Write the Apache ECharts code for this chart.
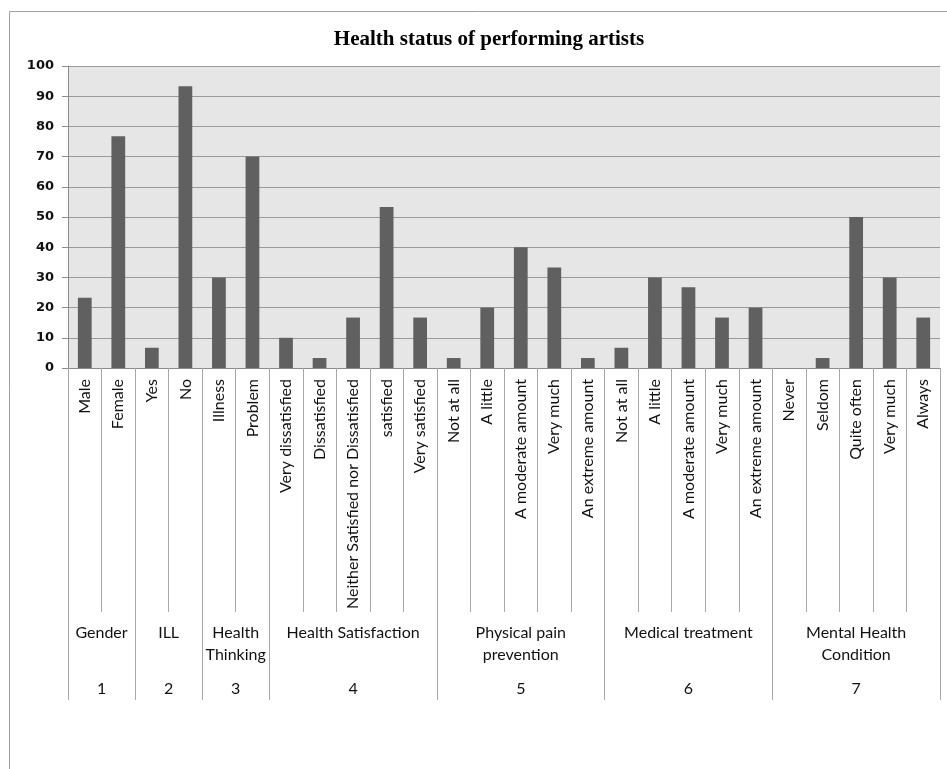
<!DOCTYPE html>
<html>
<head>
<meta charset="utf-8">
<script src="https://cdn.jsdelivr.net/npm/echarts@6/dist/echarts.min.js"></script>
<style>html,body{margin:0;padding:0;background:#fff}#c{width:947px;height:769px}</style>
</head>
<body>
<div id="c"></div>
<script>
const categories = [
  'Male','Female',
  'Yes','No',
  'Illness','Problem',
  'Very dissatisfied','Dissatisfied','Neither Satisfied nor Dissatisfied','satisfied','Very satisfied',
  'Not at all','A little','A moderate amount','Very much','An extreme amount',
  'Not at all','A little','A moderate amount','Very much','An extreme amount',
  'Never','Seldom','Quite often','Very much','Always'
];
const values = [
  23.3, 76.7,
  6.7, 93.3,
  30, 70,
  10, 3.3, 16.7, 53.3, 16.7,
  3.3, 20, 40, 33.3, 3.3,
  6.7, 30, 26.7, 16.7, 20,
  0, 3.3, 50, 30, 16.7
];
const groupNames = ['Gender','ILL','Health\nThinking','Health Satisfaction','Physical pain\nprevention','Medical treatment','Mental Health\nCondition'];
const groupNumbers = ['1','2','3','4','5','6','7'];
const groupSizes = [2,2,2,5,5,5,5];
const yTicks = [0,10,20,30,40,50,60,70,80,90,100];

const bounds = [0];
groupSizes.forEach(s => bounds.push(bounds[bounds.length-1] + s));
const centers = groupSizes.map((s,i) => bounds[i] + s/2);
const total = bounds[bounds.length-1];

const catFont = 'Lato';
const chart = echarts.init(document.getElementById('c'));
chart.setOption({
  animation: false,
  backgroundColor: '#fff',
  title: {
    text: 'Health status of performing artists',
    left: 484, textAlign: 'center', top: 24,
    textStyle: { fontFamily: 'Liberation Serif', fontWeight: 'bold', fontSize: 21, color: '#000' }
  },
  graphic: [{
    type: 'rect', silent: true, z: -1,
    shape: { x: 9.5, y: 11.5, width: 1000, height: 1000 },
    style: { fill: 'none', stroke: '#a0a0a0', lineWidth: 1 }
  }],
  grid: {
    left: 68, right: 7, top: 66, bottom: 401,
    show: true, backgroundColor: '#e6e6e6', borderWidth: 0
  },
  xAxis: [{
    type: 'category', data: categories, position: 'bottom',
    axisLine: { show: true, lineStyle: { color: '#8c8c8c' } },
    axisTick: { show: true, length: 244, lineStyle: { color: '#a8a8a8' } },
    axisLabel: { interval: 0, rotate: 90, margin: 11, fontFamily: catFont, fontSize: 16, color: '#111' },
    splitLine: { show: false }
  }, {
    type: 'value', min: 0, max: total, position: 'bottom', offset: 244,
    axisLine: { show: false },
    axisTick: { show: true, customValues: bounds, length: 88, lineStyle: { color: '#a8a8a8' } },
    axisLabel: {
      customValues: centers, margin: 10, lineHeight: 22,
      fontFamily: catFont, fontSize: 16, color: '#111', align: 'center',
      formatter: v => groupNames[centers.indexOf(v)] || ''
    },
    splitLine: { show: false }
  }, {
    type: 'value', min: 0, max: total, position: 'bottom', offset: 244,
    axisLine: { show: false }, axisTick: { show: false },
    axisLabel: {
      customValues: centers, margin: 68, lineHeight: 18,
      fontFamily: catFont, fontSize: 16, color: '#111',
      formatter: v => groupNumbers[centers.indexOf(v)] || ''
    },
    splitLine: { show: false }
  }],
  yAxis: {
    type: 'value', min: 0, max: 100, interval: 10,
    axisLine: { show: true, lineStyle: { color: '#8c8c8c' } },
    axisTick: { show: true, length: 6, lineStyle: { color: '#8c8c8c' } },
    axisLabel: { margin: 14, fontFamily: 'DejaVu Sans', fontWeight: 'bold', fontSize: 13, color: '#111',
      customValues: yTicks },
    splitLine: { show: true, lineStyle: { color: '#9a9a9a', width: 1 } }
  },
  series: [{
    type: 'bar', data: values, xAxisIndex: 0,
    barCategoryGap: '59%',
    itemStyle: { color: '#606060' }
  }]
});
</script>
</body>
</html>
